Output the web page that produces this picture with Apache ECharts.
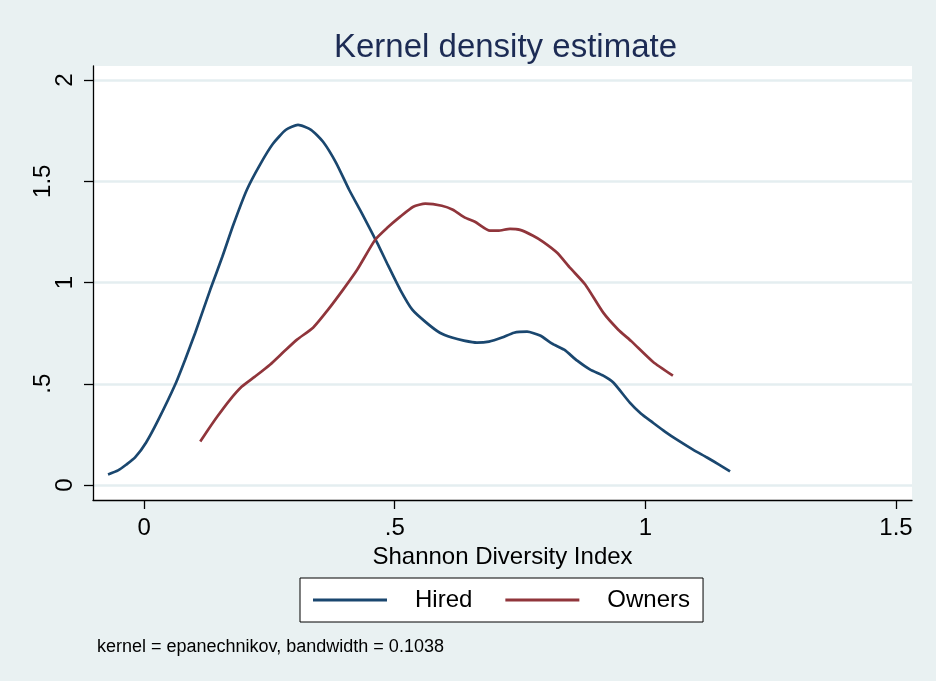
<!DOCTYPE html>
<html>
<head>
<meta charset="utf-8">
<script src="https://cdn.jsdelivr.net/npm/echarts@6/dist/echarts.min.js"></script>
<style>
html,body{margin:0;padding:0;background:#e9f1f2;}
#c{width:936px;height:681px;}
</style>
</head>
<body>
<div id="c"></div>
<script>
var hiredX = [-0.072,-0.052,-0.036,-0.018,0.004,0.028,0.062,0.082,0.102,0.132,0.156,0.178,0.205,0.231,0.257,0.283,0.307,0.333,0.357,0.383,0.409,0.435,0.465,0.487,0.511,0.535,0.563,0.59,0.614,0.638,0.664,0.688,0.714,0.738,0.764,0.79,0.814,0.838,0.864,0.89,0.916,0.936,0.969,0.991,1.015,1.039,1.063,1.095,1.123,1.147,1.169];
var hiredY = [0.052,0.072,0.10,0.136,0.21,0.32,0.496,0.62,0.752,0.965,1.127,1.285,1.458,1.581,1.685,1.754,1.778,1.754,1.695,1.591,1.458,1.339,1.196,1.083,0.964,0.866,0.802,0.752,0.728,0.713,0.703,0.708,0.728,0.752,0.757,0.738,0.698,0.668,0.614,0.57,0.54,0.506,0.407,0.353,0.308,0.264,0.224,0.175,0.136,0.101,0.067];
var ownersX = [0.112,0.128,0.146,0.17,0.195,0.221,0.251,0.279,0.305,0.337,0.367,0.397,0.425,0.461,0.485,0.511,0.537,0.561,0.594,0.616,0.64,0.66,0.69,0.706,0.73,0.75,0.776,0.796,0.824,0.85,0.88,0.916,0.946,0.973,1.015,1.055];
var ownersY = [0.215,0.274,0.338,0.417,0.486,0.535,0.594,0.659,0.718,0.777,0.866,0.965,1.063,1.211,1.27,1.325,1.374,1.389,1.379,1.359,1.32,1.3,1.256,1.256,1.265,1.26,1.231,1.201,1.147,1.072,0.99,0.851,0.767,0.708,0.609,0.54];
var xTicks = [0, 0.5, 1, 1.5];
var yTicks = [0, 0.5, 1, 1.5, 2];
var seriesNames = ['Hired', 'Owners'];
var titleText = 'Kernel density estimate';
var xTitle = 'Shannon Diversity Index';
var noteText = 'kernel = epanechnikov, bandwidth = 0.1038';

function zip(a, b) { return a.map(function (v, i) { return [v, b[i]]; }); }
function fmt(v) { var s = String(v); return s.indexOf('0.') === 0 ? s.slice(1) : s; }
function fmtY(v) {
  var s = fmt(v);
  return (Math.round(v) === v) ? '{i|' + s + '}' : '{f|' + s + '}';
}

var FONT = '"Liberation Sans", Arial, Helvetica, sans-serif';
var chart = echarts.init(document.getElementById('c'));
chart.setOption({
  backgroundColor: '#e9f1f2',
  animation: false,
  textStyle: { fontFamily: FONT },
  title: [
    { text: titleText, left: 329, top: 26, textStyle: { fontFamily: FONT, fontSize: 33, fontWeight: 'normal', color: '#1c2b54' } },
    { text: noteText, left: 92, top: 633, textStyle: { fontFamily: FONT, fontSize: 18, fontWeight: 'normal', color: '#000' } }
  ],
  grid: { left: 93, right: 24, top: 66, bottom: 181, show: true, backgroundColor: '#ffffff', borderWidth: 0, containLabel: false, outerBoundsMode: 'none' },
  legend: {
    data: seriesNames,
    left: 300, top: 578,
    backgroundColor: '#ffffff', borderColor: '#000', borderWidth: 1, borderRadius: 0,
    padding: [10, 13, 10, 13],
    itemGap: 33, itemWidth: 74, itemHeight: 3, icon: 'rect',
    textStyle: { fontFamily: FONT, fontSize: 24, color: '#000', padding: [0, 0, 0, 23] }
  },
  xAxis: {
    type: 'value', min: -0.102, max: 1.532,
    name: xTitle, nameLocation: 'middle', nameGap: 39,
    nameTextStyle: { fontFamily: FONT, fontSize: 24, color: '#000' },
    axisLine: { show: true, onZero: false, lineStyle: { color: '#000', width: 1.3 } },
    axisTick: { show: true, length: 9, customValues: xTicks, lineStyle: { color: '#000', width: 1.3 } },
    axisLabel: { customValues: xTicks, formatter: fmt, margin: 16, fontFamily: FONT, fontSize: 24, color: '#000' },
    splitLine: { show: false }
  },
  yAxis: {
    type: 'value', min: -0.074, max: 2.069,
    axisLine: { show: true, onZero: false, lineStyle: { color: '#000', width: 1.3 } },
    axisTick: { show: true, length: 9, customValues: yTicks, lineStyle: { color: '#000', width: 1.3 } },
    axisLabel: {
      customValues: yTicks, formatter: fmtY, rotate: 90, margin: 16, fontFamily: FONT, fontSize: 24, color: '#000',
      rich: {
        i: { fontFamily: FONT, fontSize: 24, color: '#000' },
        f: { fontFamily: FONT, fontSize: 24, color: '#000', padding: [0, 0, 22, 0] }
      }
    },
    splitLine: { show: true, lineStyle: { color: '#e4eef0', width: 2.5 } }
  },
  series: [
    { name: seriesNames[0], type: 'line', data: zip(hiredX, hiredY), showSymbol: false, symbol: 'none', smooth: 0.2,
      lineStyle: { color: '#1a476f', width: 2.7 }, itemStyle: { color: '#1a476f' } },
    { name: seriesNames[1], type: 'line', data: zip(ownersX, ownersY), showSymbol: false, symbol: 'none', smooth: 0.2,
      lineStyle: { color: '#90353b', width: 2.7 }, itemStyle: { color: '#90353b' } }
  ]
});
</script>
</body>
</html>
